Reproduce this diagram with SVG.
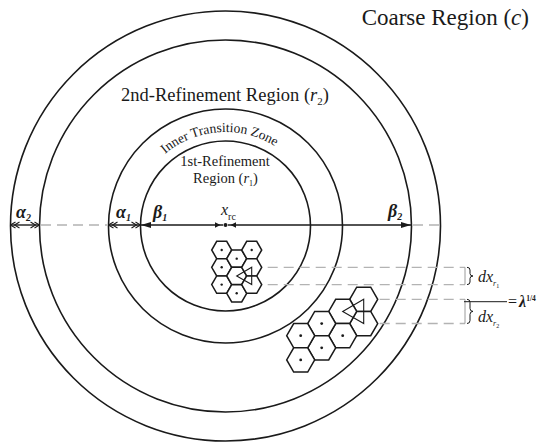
<svg xmlns="http://www.w3.org/2000/svg" xmlns:xlink="http://www.w3.org/1999/xlink" width="539" height="447" viewBox="0 0 539 447">
<style>
text{font-family:"Liberation Serif","Times New Roman",serif;fill:#1a1a1a}
.ring{fill:none;stroke:#1a1a1a;stroke-width:1.6}
.hex{fill:#fff;stroke:#1a1a1a;stroke-width:1.5;stroke-linejoin:miter}
.dash{stroke:#b3b3b3;stroke-width:1.3;stroke-dasharray:10 6;fill:none}
.solid{stroke:#1a1a1a;stroke-width:1.4;fill:none}
.tri{fill:none;stroke:#1a1a1a;stroke-width:1.1}
.gb{stroke:#9a9a9a;stroke-width:1;fill:none}
.brace{stroke:#1a1a1a;stroke-width:1;fill:none}
.gr{font-weight:bold;font-style:italic}
.it{font-style:italic}
</style>
<defs>
<polygon id="hexS" points="10,0 5,8.66 -5,8.66 -10,0 -5,-8.66 5,-8.66"/>
<polygon id="hexL" points="14,0 7,12.12 -7,12.12 -14,0 -7,-12.12 7,-12.12"/>
<marker id="chev" viewBox="0 0 10 8" refX="10" refY="4" markerWidth="10" markerHeight="8" markerUnits="userSpaceOnUse" orient="auto-start-reverse">
<path d="M5,1 L10,4 L5,7 M1,1 L6,4 L1,7" fill="none" stroke="#1a1a1a" stroke-width="1.1"/>
</marker>
<marker id="arr" viewBox="0 0 10 6" refX="10" refY="3" markerWidth="10" markerHeight="6" markerUnits="userSpaceOnUse" orient="auto">
<path d="M0,0 L10,3 L0,6 z" fill="#1a1a1a"/>
</marker>
<path id="arcT" d="M141,184.8 A94,94 0 0,1 303.4,173.4"/>
</defs>

<g id="regions">
<circle id="coarse" class="ring" cx="225.5" cy="226" r="215"/>
<circle id="ref2" class="ring" cx="225.5" cy="226" r="186"/>
<circle id="transition" class="ring" cx="225.5" cy="226" r="117"/>
<circle id="ref1" class="ring" cx="225.5" cy="226" r="85"/>
</g>

<g id="connectors">
<line class="dash" x1="41" y1="225" x2="107" y2="225"/>
<line class="dash" x1="413" y1="225" x2="440" y2="225"/>
<line class="dash" x1="251.7" y1="267.3" x2="465" y2="267.3"/>
<line class="dash" x1="251.7" y1="284.6" x2="465" y2="284.6"/>
<line class="dash" x1="363.7" y1="299.3" x2="465" y2="299.3"/>
<line class="dash" x1="363.7" y1="323.5" x2="465" y2="323.5"/>
<line class="solid" x1="10.5" y1="225" x2="39.5" y2="225" marker-start="url(#chev)" marker-end="url(#chev)"/>
<line class="solid" x1="108.5" y1="225" x2="140.5" y2="225" marker-start="url(#chev)" marker-end="url(#chev)"/>
<line class="solid" x1="223" y1="225" x2="141" y2="225" marker-end="url(#arr)"/>
<line class="solid" x1="228" y1="225" x2="411" y2="225" marker-end="url(#arr)"/>
<polygon points="215,222.3 220.5,225 215,227.7" fill="#1a1a1a"/>
<polygon points="236,222.3 230.5,225 236,227.7" fill="#1a1a1a"/>
<circle cx="225.5" cy="225" r="2" fill="#1a1a1a"/>
<line class="gb" x1="465" y1="267.3" x2="465" y2="284.6"/>
<line class="gb" x1="465" y1="299.3" x2="465" y2="323.5"/>
<path class="brace" d="M467,267.3 Q470,267.3 470,270 L470,273.5 Q470,276 473,276 Q470,276 470,278.5 L470,282 Q470,284.6 467,284.6"/>
<path class="brace" d="M467,299.3 Q470,299.3 470,302.3 L470,308.4 Q470,311.4 473,311.4 Q470,311.4 470,314.4 L470,320.5 Q470,323.5 467,323.5"/>
<line x1="464" y1="301.7" x2="507" y2="301.7" stroke="#1a1a1a" stroke-width="1"/>
</g>

<g id="cluster-r1">
<use href="#hexS" class="hex" x="221.7" y="250"/>
<use href="#hexS" class="hex" x="221.7" y="267.3"/>
<use href="#hexS" class="hex" x="221.7" y="284.6"/>
<use href="#hexS" class="hex" x="236.7" y="258.66"/>
<use href="#hexS" class="hex" x="236.7" y="275.96"/>
<use href="#hexS" class="hex" x="236.7" y="293.3"/>
<use href="#hexS" class="hex" x="251.7" y="250"/>
<use href="#hexS" class="hex" x="251.7" y="267.3"/>
<use href="#hexS" class="hex" x="251.7" y="284.6"/>
<g fill="#1a1a1a">
<circle cx="221.7" cy="250" r="1.2"/><circle cx="221.7" cy="267.3" r="1.2"/><circle cx="221.7" cy="284.6" r="1.2"/>
<circle cx="236.7" cy="258.66" r="1.2"/><circle cx="236.7" cy="293.3" r="1.2"/><circle cx="251.7" cy="250" r="1.2"/>
</g>
<polygon class="tri" points="236.7,275.96 251.7,267.3 251.7,284.6"/>
</g>

<g id="cluster-r2">
<use href="#hexL" class="hex" x="363.7" y="299.3"/>
<use href="#hexL" class="hex" x="363.7" y="323.54"/>
<use href="#hexL" class="hex" x="342.7" y="311.42"/>
<use href="#hexL" class="hex" x="342.7" y="335.66"/>
<use href="#hexL" class="hex" x="321.7" y="323.54"/>
<use href="#hexL" class="hex" x="321.7" y="347.78"/>
<use href="#hexL" class="hex" x="300.7" y="335.66"/>
<use href="#hexL" class="hex" x="300.7" y="359.9"/>
<g fill="#1a1a1a">
<circle cx="321.7" cy="323.54" r="1.4"/><circle cx="342.7" cy="335.66" r="1.4"/><circle cx="300.7" cy="335.66" r="1.4"/>
<circle cx="321.7" cy="347.78" r="1.4"/><circle cx="300.7" cy="359.9" r="1.4"/>
</g>
<polygon class="tri" points="342.7,311.42 363.7,299.3 363.7,323.54"/>
</g>

<g id="labels">
<text x="529" y="25" font-size="23" text-anchor="end">Coarse Region (<tspan class="it">c</tspan>)</text>
<text x="225" y="101" font-size="18.5" text-anchor="middle">2nd-Refinement Region (<tspan class="it">r</tspan><tspan font-size="11" dy="4">2</tspan><tspan dy="-4">)</tspan></text>
<text font-size="13.5"><textPath href="#arcT" startOffset="50%" text-anchor="middle">Inner Transition Zone</textPath></text>
<text x="225" y="166" font-size="14.5" text-anchor="middle">1st-Refinement</text>
<text x="225.5" y="183" font-size="14.5" text-anchor="middle">Region (<tspan class="it">r</tspan><tspan font-size="8" dy="3">1</tspan><tspan dy="-3">)</tspan></text>
<text x="16" y="218" font-size="18" class="gr">α<tspan font-size="10" dy="3">2</tspan></text>
<text x="116" y="218" font-size="18" class="gr">α<tspan font-size="10" dy="3">1</tspan></text>
<text x="153" y="218" font-size="18" class="gr">β<tspan font-size="10" dy="3">1</tspan></text>
<text x="388" y="217" font-size="18" class="gr">β<tspan font-size="10" dy="3">2</tspan></text>
<text x="221" y="215" font-size="16" class="it">x<tspan font-size="10" font-style="normal" dy="5">rc</tspan></text>
<text x="478" y="281.5" font-size="16" class="it">dx<tspan font-size="8" dy="4">r</tspan><tspan font-size="6" font-style="normal" dy="2">1</tspan></text>
<text x="478" y="321.5" font-size="16" class="it">dx<tspan font-size="8" dy="4">r</tspan><tspan font-size="6" font-style="normal" dy="2">2</tspan></text>
<text x="508" y="307" font-size="16">=<tspan class="gr" dx="2">λ</tspan><tspan font-size="7.5" font-weight="bold" dy="-6">1/4</tspan></text>
</g>
</svg>
